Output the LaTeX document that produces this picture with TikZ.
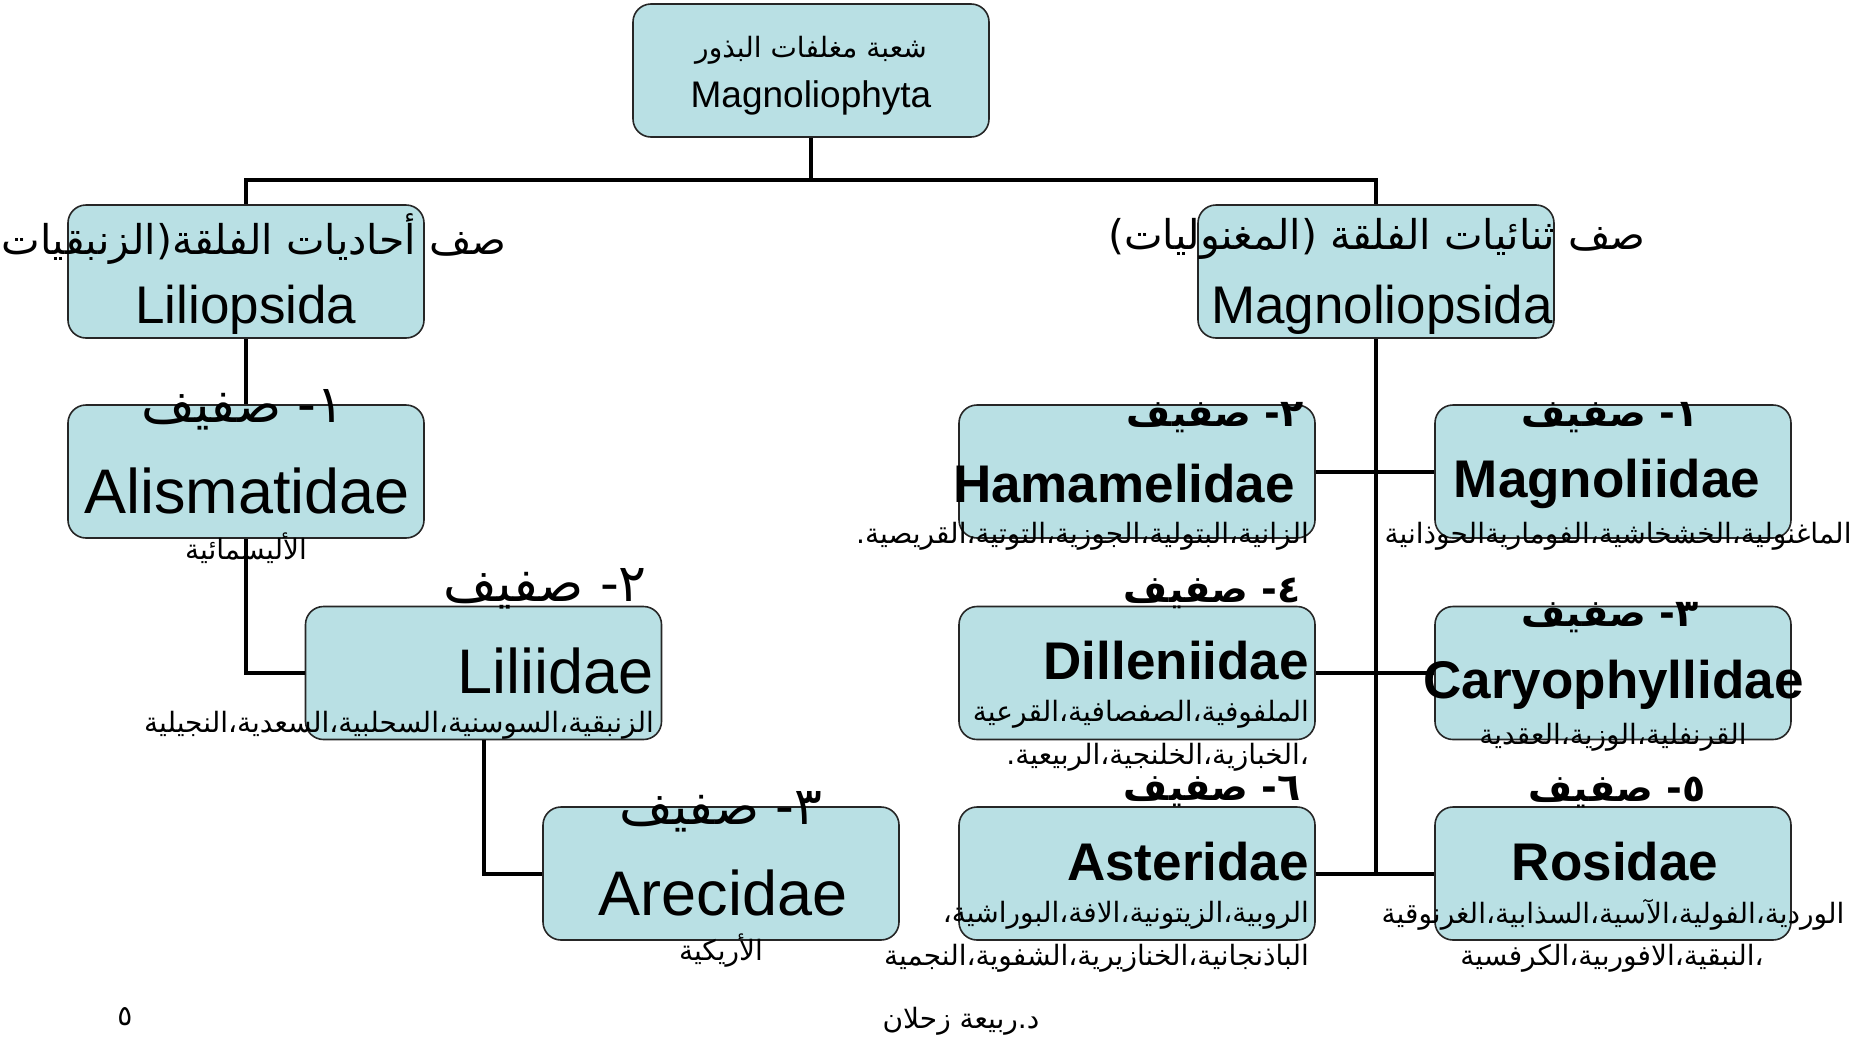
\documentclass[tikz,border=0pt]{standalone}
\usepackage{fontspec}
\setmainfont{Liberation Sans}
\newfontfamily\arabicfont[Script=Arabic]{DejaVu Sans}
\TeXXeTstate=1
\newcommand{\artext}[1]{{\arabicfont\beginR #1\endR}}
\definecolor{boxblue}{RGB}{185,224,228}

\tikzset{
  taxbox/.style={draw=black!85, line width=1.6pt, fill=boxblue, rounded corners=18pt,
    minimum width=356pt, minimum height=133pt, inner sep=0pt},
  link/.style={line width=4pt},
  rootname/.style={inner sep=0pt, font=\fontsize{37}{40}\selectfont},
  classname/.style={inner sep=0pt, font=\fontsize{53}{58}\selectfont},
  subname/.style={inner sep=0pt, font=\fontsize{63}{68}\selectfont},
  subbold/.style={inner sep=0pt, font=\fontsize{53}{58}\selectfont\bfseries},
  rootar/.style={inner sep=0pt, font=\fontsize{28}{32}\selectfont},
  classar/.style={inner sep=0pt, font=\fontsize{41}{45}\selectfont},
  headar/.style={inner sep=0pt, font=\fontsize{52}{56}\selectfont},
  headbold/.style={inner sep=0pt, font=\fontsize{38}{42}\selectfont\bfseries},
  descar/.style={inner sep=0pt, font=\fontsize{28}{32}\selectfont}
}

\begin{document}
\begin{tikzpicture}[x=1pt, y=-1pt]
\useasboundingbox (0,0) rectangle (1872,1039);

% Division
\node[taxbox] (root) at (811,70.5) {};

% Classes
\node[taxbox] (lilio) at (246,271.5) {};
\node[taxbox] (magno) at (1376,271.5) {};

% Liliopsida subclasses
\node[taxbox] (alis) at (246,471.5) {};
\node[taxbox] (lili) at (483.5,673) {};
\node[taxbox] (arec) at (721,873.5) {};

% Magnoliopsida subclasses
\node[taxbox] (hama) at (1137,471.5) {};
\node[taxbox] (magnoli) at (1613,471.5) {};
\node[taxbox] (dill) at (1137,673) {};
\node[taxbox] (caryo) at (1613,673) {};
\node[taxbox] (aster) at (1137,873.5) {};
\node[taxbox] (rosid) at (1613,873.5) {};

% Connectors
\coordinate (bus) at (811,180);
\draw[link] (root.south) -- (bus);
\draw[link] (lilio.north) |- (bus) -| (magno.north);
\draw[link] (lilio.south) -- (alis.north);
\draw[link] (alis.south) |- (lili.west);
\draw[link] (lili.south) |- (arec.west);
\draw[link] (magno.south) -- (magno.south |- aster.east);
\draw[link] (hama.east) -- (magnoli.west);
\draw[link] (dill.east) -- (caryo.west);
\draw[link] (aster.east) -- (rosid.west);

% Texts of the division
\node[rootar] (rootA) at (811,50) {\artext{شعبة مغلفات البذور}};
\node[rootname] (rootL) at (811,98) {Magnoliophyta};

% Texts of the classes
\node[classar] (lilioA) at (246,239) {\artext{صف أحاديات الفلقة(الزنبقيات)}};
\node[classname] (lilioL) at (246,310) {Liliopsida};
\node[classar] (magnoA) at (1377,239) {\artext{صف ثنائيات الفلقة (المغنوليات)}};
\node[classname] (magnoL) at (1382,310) {Magnoliopsida};

% Left column
\node[headar] (alisH) at (243,410) {\artext{١- صفيف}};
\node[subname] (alisL) at (247,491) {Alismatidae};
\node[descar] (alisD) at (246,548) {\artext{الأليسمائية}};

\node[headar, anchor=east] (liliH) at (647,589) {\artext{٢- صفيف}};
\node[subname, anchor=east] (liliL) at (654,671) {Liliidae};
\node[descar, anchor=east] (liliD) at (654,725) {\artext{الزنبقية،السوسنية،السحلبية،السعدية،النجيلية}};

\node[headar] (arecH) at (721,812) {\artext{٣- صفيف}};
\node[subname] (arecL) at (723,893) {Arecidae};
\node[descar] (arecD) at (721,951) {\artext{الأريكية}};

% Right side, inner column
\node[headbold, anchor=east] (hamaH) at (1304,418) {\artext{٢- صفيف}};
\node[subbold] (hamaL) at (1124,484) {Hamamelidae};
\node[descar, anchor=east] (hamaD) at (1309,536) {\artext{الزانية،البتولية،الجوزية،التوتية،القريصية.}};

\node[headbold, anchor=east] (dillH) at (1301,593) {\artext{٤- صفيف}};
\node[subbold, anchor=east] (dillL) at (1309,661) {Dilleniidae};
\node[descar, anchor=east] (dillD) at (1309,714) {\artext{الملفوفية،الصفصافية،القرعية}};
\node[descar, anchor=east] (dillE) at (1309,757) {\artext{،الخبازية،الخلنجية،الربيعية.}};

\node[headbold, anchor=east] (asterH) at (1301,792) {\artext{٦- صفيف}};
\node[subbold, anchor=east] (asterL) at (1309,862) {Asteridae};
\node[descar, anchor=east] (asterD) at (1309,915) {\artext{الروبية،الزيتونية،الافة،البوراشية،}};
\node[descar, anchor=east] (asterE) at (1309,958) {\artext{الباذنجانية،الخنازيرية،الشفوية،النجمية}};

% Right side, outer column
\node[headbold] (magnoliH) at (1610,418) {\artext{١- صفيف}};
\node[subbold] (magnoliL) at (1607,484) {Magnoliidae};
\node[descar] (magnoliD) at (1618,536) {\artext{الماغنولية،الخشخاشية،الفوماريةالحوذانية}};

\node[headbold] (caryoH) at (1610,618) {\artext{٣- صفيف}};
\node[subbold] (caryoL) at (1613.5,685) {Caryophyllidae};
\node[descar] (caryoD) at (1613,737) {\artext{القرنفلية،الوزية،العقدية}};

\node[headbold] (rosidH) at (1617,792) {\artext{٥- صفيف}};
\node[subbold] (rosidL) at (1615,862) {Rosidae};
\node[descar] (rosidD) at (1613,915) {\artext{الوردية،الفولية،الآسية،السذابية،الغرنوقية}};
\node[descar] (rosidE) at (1612,958) {\artext{،النبقية،الافوربية،الكرفسية}};

% Footer
\node[descar] (pageno) at (125,1017) {\artext{٥}};
\node[descar] (author) at (961,1021) {\artext{د.ربيعة زحلان}};
\end{tikzpicture}
\end{document}
